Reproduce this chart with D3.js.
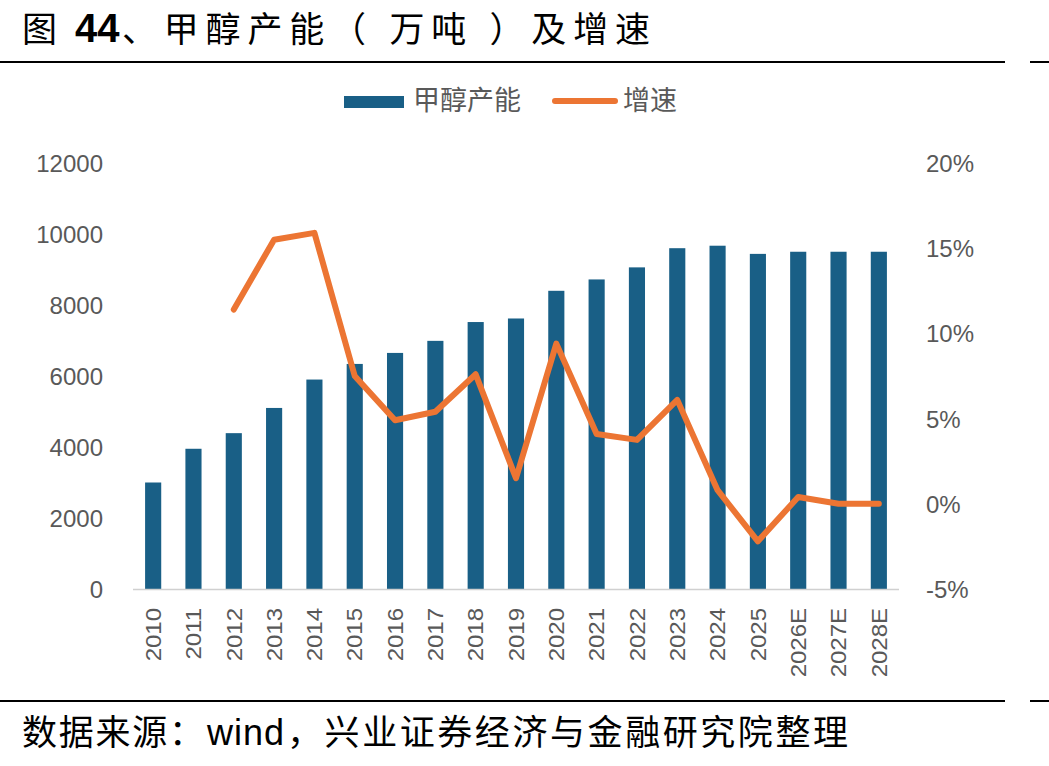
<!DOCTYPE html>
<html>
<head>
<meta charset="utf-8">
<script src="https://cdn.jsdelivr.net/npm/d3@7"></script>
<style>
  html, body { margin: 0; padding: 0; background: #fff; }
  svg { display: block; }
</style>
</head>
<body>
<svg id="chart" width="1049" height="766"></svg>
<script>
const categories = ["2010","2011","2012","2013","2014","2015","2016","2017","2018","2019","2020","2021","2022","2023","2024","2025","2026E","2027E","2028E"];
const capacity = [3000,3950,4390,5100,5900,6340,6650,6990,7520,7620,8400,8720,9060,9600,9670,9440,9500,9500,9500];
const growth = [null,null,11.4,15.5,15.9,7.5,4.9,5.4,7.6,1.5,9.4,4.1,3.75,6.1,0.8,-2.2,0.4,0.0,0.0];
const leftTicks = [0,2000,4000,6000,8000,10000,12000];
const rightTicks = [-5,0,5,10,15,20];

const svg = d3.select("#chart");
const W = 1049, H = 766;
const plot = {left: 133, right: 899, top: 163, bottom: 589};
const latin = "'Liberation Sans', Arial, 'Noto Sans CJK SC', sans-serif";
const cjk = "'Liberation Sans', 'Noto Sans CJK SC', sans-serif";
const grey = "#595959";
const barColor = "#195f86";
const lineColor = "#ec7533";

svg.append("rect").attr("width", W).attr("height", H).attr("fill", "#fff");

function piece(txt, x, y, size, len, bold) {
  const t = svg.append("text").attr("x", x).attr("y", y)
    .attr("font-family", cjk).attr("font-size", size).attr("fill", "#000").text(txt);
  if (len) t.attr("textLength", len).attr("lengthAdjust", "spacing");
  if (bold) t.attr("font-weight", "bold");
  return t;
}
// Title
piece("图", 22, 42, 35, null, false);
piece("44", 75, 42, 40, null, true);
piece("、甲醇产能（ 万吨 ）及增速", 122, 42, 35, 528, false);

// rules
[62, 701].forEach(y => {
  svg.append("line").attr("x1", 0).attr("x2", 1005).attr("y1", y).attr("y2", y)
    .attr("stroke", "#000").attr("stroke-width", 2);
  svg.append("line").attr("x1", 1030).attr("x2", 1049).attr("y1", y).attr("y2", y)
    .attr("stroke", "#000").attr("stroke-width", 2);
});

// Source
piece("数据来源：", 22, 745, 35, 182, false);
piece("wind", 207, 745, 36, 77, false);
piece("，兴业证券经济与金融研究院整理", 287, 745, 35, 561, false);

// Scales
const x = d3.scaleBand().domain(categories).range([plot.left, plot.right]).paddingInner(0.6).paddingOuter(0.3);
const yL = d3.scaleLinear().domain([0, 12000]).range([plot.bottom, plot.top]);
const yR = d3.scaleLinear().domain([-5, 20]).range([plot.bottom, plot.top]);

// Bars
svg.append("g").selectAll("rect").data(categories).join("rect")
  .attr("x", d => x(d))
  .attr("width", x.bandwidth())
  .attr("y", (d, i) => yL(capacity[i]))
  .attr("height", (d, i) => yL(0) - yL(capacity[i]))
  .attr("fill", barColor);

// X axis line
svg.append("line").attr("x1", plot.left).attr("x2", plot.right)
  .attr("y1", plot.bottom + 0.5).attr("y2", plot.bottom + 0.5)
  .attr("stroke", "#d0d0d0").attr("stroke-width", 1.5);

// Line
const pts = categories.map((c, i) => ({c, v: growth[i]}));
const line = d3.line().defined(d => d.v !== null)
  .x(d => x(d.c) + x.bandwidth() / 2).y(d => yR(d.v));
svg.append("path").datum(pts).attr("d", line)
  .attr("fill", "none").attr("stroke", lineColor).attr("stroke-width", 6)
  .attr("stroke-linejoin", "round").attr("stroke-linecap", "round");

// Left axis
const axL = d3.axisLeft(yL).tickValues(leftTicks).tickSize(0).tickPadding(0).tickFormat(d3.format("d"));
const gL = svg.append("g").attr("transform", `translate(103,0)`).call(axL);
gL.select(".domain").remove();
gL.selectAll("text").attr("font-family", latin).attr("font-size", 24).attr("fill", grey).attr("dy", "0.35em");

// Right axis
const axR = d3.axisRight(yR).tickValues(rightTicks).tickSize(0).tickPadding(0).tickFormat(d => d + "%");
const gR = svg.append("g").attr("transform", `translate(926,0)`).call(axR);
gR.select(".domain").remove();
gR.selectAll("text").attr("font-family", latin).attr("font-size", 24).attr("fill", grey).attr("dy", "0.35em");

// X axis labels
const axX = d3.axisBottom(x).tickSize(0).tickPadding(0);
const gX = svg.append("g").attr("transform", `translate(0,${plot.bottom})`).call(axX);
gX.select(".domain").remove();
gX.selectAll("text")
  .attr("font-family", latin).attr("font-size", 24).attr("fill", grey)
  .attr("text-anchor", "end")
  .attr("transform", "rotate(-90) scale(1,0.92)")
  .attr("x", -19).attr("y", 0).attr("dy", "0.35em");

// Legend
const lg = svg.append("g");
lg.append("rect").attr("x", 344).attr("y", 96).attr("width", 60).attr("height", 12).attr("fill", barColor);
lg.append("text").attr("x", 413).attr("y", 101).attr("dy", "0.35em")
  .attr("font-family", cjk).attr("font-size", 27).attr("fill", grey).text("甲醇产能");
lg.append("line").attr("x1", 555).attr("x2", 615).attr("y1", 101).attr("y2", 101)
  .attr("stroke", lineColor).attr("stroke-width", 6).attr("stroke-linecap", "round");
lg.append("text").attr("x", 623).attr("y", 101).attr("dy", "0.35em")
  .attr("font-family", cjk).attr("font-size", 27).attr("fill", grey).text("增速");
</script>
</body>
</html>
